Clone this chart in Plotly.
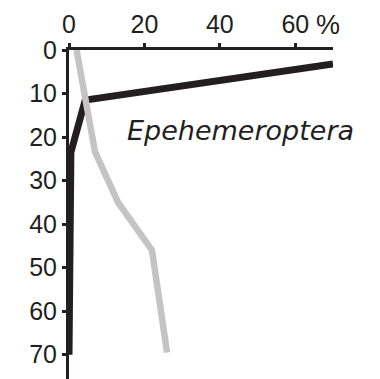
import plotly.graph_objects as go

# Data (percent vs depth)
black_pct = [0, 0.5, 4.3, 70]
black_depth = [70, 23.5, 11.5, 3.2]
gray_pct = [2, 6.9, 13, 22, 26]
gray_depth = [0, 23.4, 35, 46, 69.5]
x_ticks = [0, 20, 40, 60]
y_ticks = [0, 10, 20, 30, 40, 50, 60, 70]
label = "Epehemeroptera"

fig = go.Figure()
fig.add_trace(go.Scatter(x=black_pct, y=black_depth, mode="lines",
                         line=dict(color="#231f20", width=7), hoverinfo="skip"))
fig.add_trace(go.Scatter(x=gray_pct, y=gray_depth, mode="lines",
                         line=dict(color="#c4c4c4", width=6.5), hoverinfo="skip"))

font = dict(family="Liberation Sans, Arial", size=25, color="#231f20")
fig.update_layout(
    width=380, height=379,
    margin=dict(l=69, r=47, t=50, b=0),
    paper_bgcolor="white", plot_bgcolor="white",
    showlegend=False,
    xaxis=dict(side="top", range=[0, 70], tickvals=x_ticks,
               ticktext=[str(v) for v in x_ticks],
               showline=True, linecolor="#231f20", linewidth=3,
               ticks="outside", ticklen=4, tickwidth=3, tickcolor="#231f20",
               showgrid=False, zeroline=False, tickfont=font),
    yaxis=dict(range=[75.6, 0], tickvals=y_ticks,
               showline=True, linecolor="#231f20", linewidth=3,
               ticks="outside", ticklen=4, tickwidth=3, tickcolor="#231f20",
               showgrid=False, zeroline=False, tickfont=font),
)
fig.add_annotation(x=65.0, y=1, xref="x", yref="paper",
                   text="%", showarrow=False, xanchor="left", yanchor="bottom",
                   yshift=8, font=dict(family="Liberation Sans, Arial", size=27, color="#231f20"))
fig.add_annotation(x=14.9, y=18.6, xref="x", yref="y", text="<i>" + label + "</i>",
                   showarrow=False, xanchor="left", yanchor="middle",
                   font=dict(family="DejaVu Sans", size=27, color="#231f20"))
fig.write_html("out.html")
